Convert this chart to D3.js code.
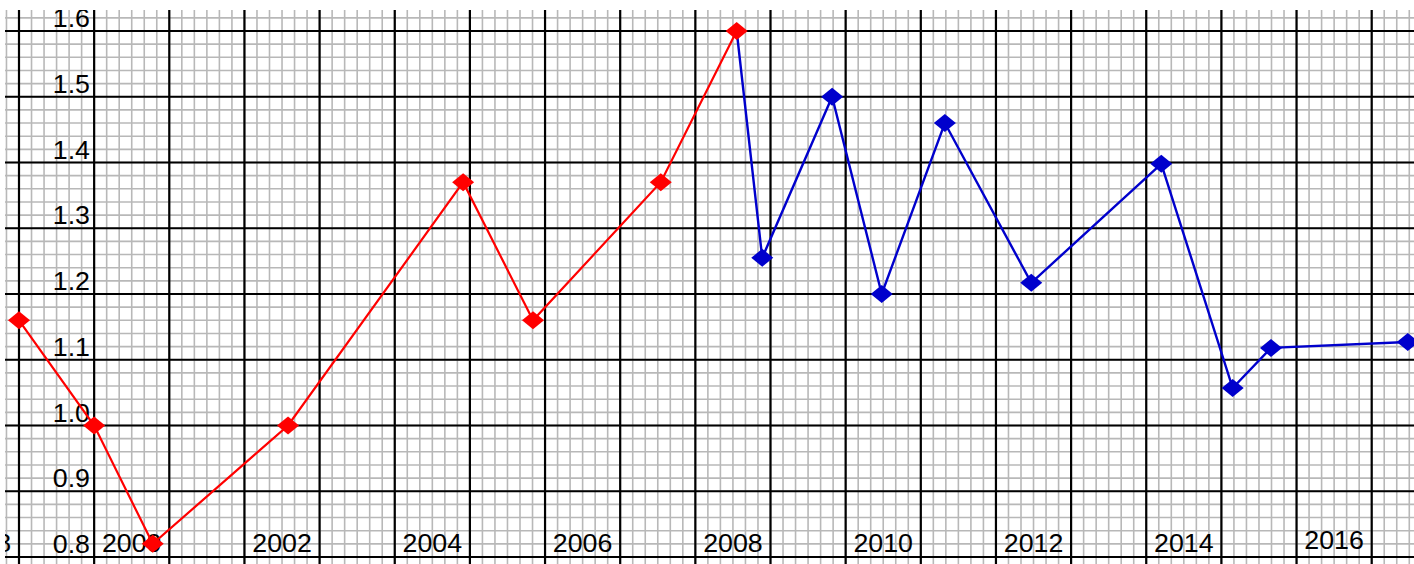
<!DOCTYPE html>
<html>
<head>
<meta charset="utf-8">
<script src="https://cdn.jsdelivr.net/npm/d3@7"></script>
<style>
  html, body { margin: 0; padding: 0; background: #fff; }
  svg { display: block; }
  text { font-family: "Liberation Sans", Arial, sans-serif; fill: #000; }
</style>
</head>
<body>
<svg id="chart" width="1414" height="564"></svg>
<script>
// ---- data ----
const redYears   = [1998.5, 1999.5, 2000.28, 2002.08, 2004.41, 2005.34, 2007.04, 2008.05];
const redValues  = [1.16, 1.00, 0.82, 1.00, 1.37, 1.16, 1.37, 1.60];
const blueYears  = [2008.05, 2008.39, 2009.32, 2009.98, 2010.82, 2011.97, 2013.70, 2014.65, 2015.16, 2016.98];
const blueValues = [1.60, 1.255, 1.50, 1.20, 1.46, 1.217, 1.398, 1.057, 1.118, 1.127];
const xTickLabels = [1998, 2000, 2002, 2004, 2006, 2008, 2010, 2012, 2014, 2016];
const yTickLabels = [0.8, 0.9, 1.0, 1.1, 1.2, 1.3, 1.4, 1.5, 1.6];

// ---- layout ----
const plot = { left: 5, top: 10, right: 1414, bottom: 564 };
const svg = d3.select("#chart");

const x = d3.scaleLinear().domain([1998.5, 2017.5]).range([19, 19 + 19 * 75.15]);
const y = d3.scaleLinear().domain([0.8, 1.6]).range([557, 31]);

svg.append("defs").append("clipPath").attr("id", "clip")
  .append("rect").attr("x", plot.left).attr("y", plot.top)
  .attr("width", plot.right - plot.left).attr("height", plot.bottom - plot.top);

const g = svg.append("g").attr("clip-path", "url(#clip)");

// grids
const minorX = d3.range(0, 20 * 6 + 1).map(i => 1998.5 - 1 + i / 6);
const minorY = d3.range(0, 50).map(i => 0.74 + i * 0.02);
const majorX = d3.range(0, 21).map(i => 1997.5 + i);
const majorY = d3.range(0, 11).map(i => 0.7 + i * 0.1);

g.append("g").selectAll("line").data(minorX).join("line")
  .attr("x1", d => x(d)).attr("x2", d => x(d))
  .attr("y1", plot.top).attr("y2", plot.bottom)
  .attr("stroke", "#b8b8b8").attr("stroke-width", 1.6);
g.append("g").selectAll("line").data(minorY).join("line")
  .attr("y1", d => y(d)).attr("y2", d => y(d))
  .attr("x1", plot.left).attr("x2", plot.right)
  .attr("stroke", "#b8b8b8").attr("stroke-width", 1.6);

g.append("g").selectAll("line").data(majorX).join("line")
  .attr("x1", d => x(d)).attr("x2", d => x(d))
  .attr("y1", plot.top).attr("y2", plot.bottom)
  .attr("stroke", "#000").attr("stroke-width", 2.2);
g.append("g").selectAll("line").data(majorY).join("line")
  .attr("y1", d => y(d)).attr("y2", d => y(d))
  .attr("x1", plot.left).attr("x2", plot.right)
  .attr("stroke", "#000").attr("stroke-width", 2.2);

// labels
const fs = 26, sx = 1.03;
g.append("g").selectAll("text").data(yTickLabels).join("text")
  .attr("transform", d => `translate(90,${y(d) - 4}) scale(${sx},1)`)
  .attr("text-anchor", "end")
  .attr("font-size", fs)
  .text(d => d.toFixed(1));

g.append("g").selectAll("text").data(xTickLabels).join("text")
  .attr("transform", d => `translate(${x(d)},${d === 2016 ? 549 : 552}) scale(${sx},1)`)
  .attr("text-anchor", "middle")
  .attr("font-size", fs)
  .text(d => d);

// lines
const redData = redYears.map((yr, i) => ({ yr, v: redValues[i] }));
const blueData = blueYears.map((yr, i) => ({ yr, v: blueValues[i] }));
const line = d3.line().x(d => x(d.yr)).y(d => y(d.v));

g.append("path").datum(blueData).attr("d", line)
  .attr("fill", "none").attr("stroke", "#0000cc").attr("stroke-width", 2.4);
g.append("path").datum(redData).attr("d", line)
  .attr("fill", "none").attr("stroke", "#ff0000").attr("stroke-width", 2.2);

// diamond markers
const diamond = "M0,-9 L11,0 L0,9 L-11,0 Z";
g.append("g").selectAll("path").data(blueData.slice(1)).join("path")
  .attr("d", diamond)
  .attr("transform", d => `translate(${x(d.yr)},${y(d.v)})`)
  .attr("fill", "#0000cc");
g.append("g").selectAll("path").data(redData).join("path")
  .attr("d", diamond)
  .attr("transform", d => `translate(${x(d.yr)},${y(d.v)})`)
  .attr("fill", "#ff0000");
</script>
</body>
</html>
